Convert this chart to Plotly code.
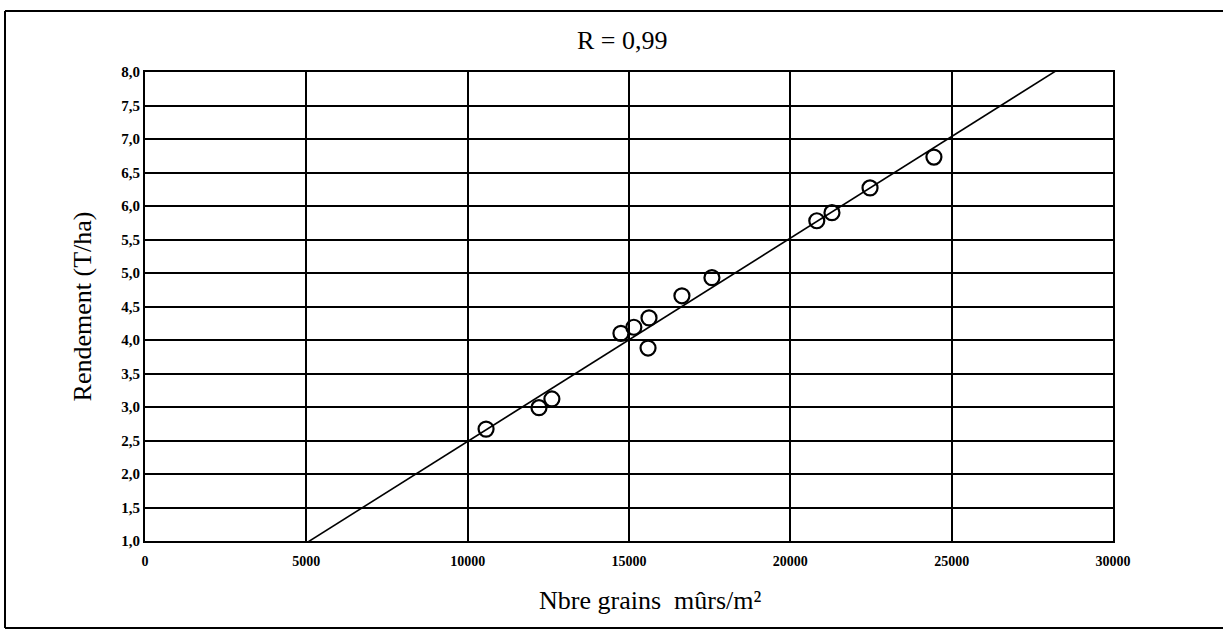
import numpy as np
import plotly.graph_objects as go

# Data
grains = [10570, 12210, 12610, 14750, 15150, 15620, 15590, 16640, 17570,
          20820, 21290, 22470, 24450]
rendement = [2.67, 2.99, 3.12, 4.10, 4.19, 4.33, 3.88, 4.66, 4.93,
             5.78, 5.90, 6.27, 6.73]

x_tickvals = [0, 5000, 10000, 15000, 20000, 25000, 30000]
x_ticktext = ["0", "5000", "10000", "15000", "20000", "25000", "30000"]
y_tickvals = [1.0, 1.5, 2.0, 2.5, 3.0, 3.5, 4.0, 4.5, 5.0, 5.5, 6.0, 6.5, 7.0, 7.5, 8.0]
y_ticktext = ["1,0", "1,5", "2,0", "2,5", "3,0", "3,5", "4,0", "4,5", "5,0",
              "5,5", "6,0", "6,5", "7,0", "7,5", "8,0"]

title_text = "R = 0,99"
x_title = "Nbre grains  mûrs/m²"
y_title = "Rendement (T/ha)"

# Linear regression line
slope, intercept = np.polyfit(grains, rendement, 1)
line_x = np.array([0, 30000])
line_y = slope * line_x + intercept

SERIF = "Liberation Serif, Times New Roman, serif"

W, H = 1223, 630
L, T, PW, PH = 145, 72, 968, 469

fig = go.Figure()
fig.add_trace(go.Scatter(
    x=line_x, y=line_y, mode="lines",
    line=dict(color="black", width=1.6),
    hoverinfo="skip", showlegend=False,
))
fig.add_trace(go.Scatter(
    x=grains, y=rendement, mode="markers",
    marker=dict(symbol="circle-open", size=15, color="black",
                line=dict(width=2.2, color="black")),
    showlegend=False,
))

fig.update_layout(
    width=W, height=H,
    paper_bgcolor="white", plot_bgcolor="white",
    margin=dict(l=L, r=W - L - PW, t=T, b=H - T - PH, autoexpand=False),
    title=dict(text=title_text, x=0.493, xref="paper", xanchor="center",
               y=1 - 40 / H, yref="container", yanchor="middle",
               font=dict(family=SERIF, size=26, color="black")),
    font=dict(family=SERIF, color="black"),
    showlegend=False,
)

fig.update_xaxes(
    range=[0, 30000], tickvals=x_tickvals, ticktext=x_ticktext,
    showgrid=True, gridcolor="black", gridwidth=1.7,
    showline=True, linecolor="black", linewidth=2, mirror=True,
    zeroline=False, ticks="outside", ticklen=6, tickcolor="rgba(0,0,0,0)",
    tickfont=dict(family=SERIF, size=14, color="black", weight="bold"),
)
fig.update_yaxes(
    range=[1, 8], tickvals=y_tickvals, ticktext=y_ticktext,
    showgrid=True, gridcolor="black", gridwidth=1.7,
    showline=True, linecolor="black", linewidth=2, mirror=True,
    zeroline=False, ticks="outside", ticklen=0, tickcolor="rgba(0,0,0,0)",
    tickfont=dict(family=SERIF, size=15, color="black", weight="bold"),
    title=dict(text=y_title, standoff=22,
               font=dict(family=SERIF, size=26, color="black")),
)

# X axis title, placed slightly right of the plot centre as in the original
fig.add_annotation(text=x_title, xref="paper", yref="paper",
                   x=0.522, y=-0.126, xanchor="center", yanchor="middle",
                   showarrow=False,
                   font=dict(family=SERIF, size=26, color="black"))

# Outer frame (left, top and bottom edges; right edge lies outside the view)
frame_left = (5 - L) / PW
frame_top = 1 + (T - 11) / PH
frame_bottom = -(H - T - PH - 2) / PH
for x0, y0, x1, y1 in [
    (frame_left, frame_bottom, frame_left, frame_top),
    (frame_left, frame_top, 1.2, frame_top),
    (frame_left, frame_bottom, 1.2, frame_bottom),
]:
    fig.add_shape(type="line", xref="paper", yref="paper",
                  x0=x0, y0=y0, x1=x1, y1=y1,
                  line=dict(color="black", width=2), layer="above")

fig.write_html(
    "out.html",
    config={"displayModeBar": False},
    post_script="document.body.style.margin='0';document.body.style.overflow='hidden';",
)
